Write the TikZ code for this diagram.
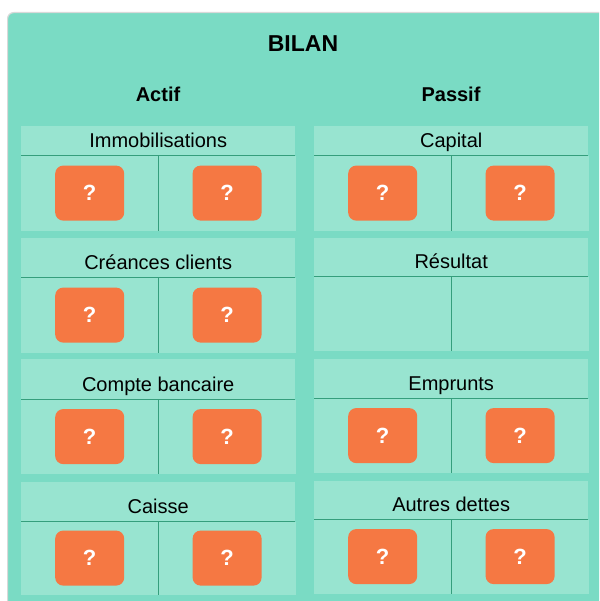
\documentclass[tikz,border=0pt]{standalone}
\usepackage{fontspec}
\setmainfont{Liberation Sans}
\usepackage{tikz}
\usetikzlibrary{positioning}
\definecolor{outerteal}{HTML}{7ADBC4}
\definecolor{cellteal}{HTML}{98E4D0}
\definecolor{rulegreen}{HTML}{359E7C}
\definecolor{btnorange}{HTML}{F57843}
\begin{document}
\begin{tikzpicture}[x=1pt, y=-1pt, node distance=0pt]
% Define
\tikzstyle{PANEL} = [rectangle, rounded corners=6pt, draw=black!15, line width=1.2pt, fill=outerteal, inner sep=0pt, minimum width=620pt, minimum height=620pt]
\tikzstyle{TITLE} = [anchor=base, font=\bfseries\fontsize{23}{28}\selectfont]
\tikzstyle{SIDE} = [anchor=base, font=\bfseries\fontsize{20}{24}\selectfont]
\tikzstyle{HEADER} = [rectangle, fill=cellteal, inner sep=0pt, minimum width=274pt, text depth=8pt, font=\fontsize{20}{24}\selectfont]
\tikzstyle{CELL} = [rectangle, fill=cellteal, inner sep=0pt, minimum width=137pt]
\tikzstyle{BUTTON} = [rectangle, rounded corners=8pt, fill=btnorange, text=white, inner sep=0pt, minimum width=69pt, minimum height=55pt, font=\bfseries\fontsize{22}{26}\selectfont]
\tikzstyle{RULE} = [draw=rulegreen, line width=1.5pt]
\useasboundingbox (0,0) rectangle (599,601);
\fill[white] (0,0) rectangle (599,601);
\clip (0,0) rectangle (599,601);
% Place nodes
\node [PANEL, anchor=north west] (bilanbox) at (7,12) {};
\node [TITLE] (bilan) at (303,52) {BILAN};
\node [SIDE] (actif) at (158,102) {Actif};
\node [SIDE] (passif) at (451,102) {Passif};
% Actif
\node [HEADER, text height=21pt, anchor=north west] (immo) at (21,126) {Immobilisations};
\node [CELL, minimum height=75pt, below right=0pt and 0pt of immo.south west] (immo_d) {};
\node [CELL, minimum height=75pt, right=0pt of immo_d] (immo_c) {};
\node [HEADER, text height=31pt, anchor=north west] (creances) at (21,238) {Créances clients};
\node [CELL, minimum height=75pt, below right=0pt and 0pt of creances.south west] (creances_d) {};
\node [CELL, minimum height=75pt, right=0pt of creances_d] (creances_c) {};
\node [HEADER, text height=32pt, anchor=north west] (banque) at (21,359) {Compte bancaire};
\node [CELL, minimum height=74pt, below right=0pt and 0pt of banque.south west] (banque_d) {};
\node [CELL, minimum height=74pt, right=0pt of banque_d] (banque_c) {};
\node [HEADER, text height=31pt, anchor=north west] (caisse) at (21,482) {Caisse};
\node [CELL, minimum height=73pt, below right=0pt and 0pt of caisse.south west] (caisse_d) {};
\node [CELL, minimum height=73pt, right=0pt of caisse_d] (caisse_c) {};
% Passif
\node [HEADER, text height=21pt, anchor=north west] (capital) at (314,126) {Capital};
\node [CELL, minimum height=75pt, below right=0pt and 0pt of capital.south west] (capital_d) {};
\node [CELL, minimum height=75pt, right=0pt of capital_d] (capital_c) {};
\node [HEADER, text height=30pt, anchor=north west] (resultat) at (314,238) {Résultat};
\node [CELL, minimum height=74pt, below right=0pt and 0pt of resultat.south west] (resultat_d) {};
\node [CELL, minimum height=74pt, right=0pt of resultat_d] (resultat_c) {};
\node [HEADER, text height=31pt, anchor=north west] (emprunts) at (314,359) {Emprunts};
\node [CELL, minimum height=74pt, below right=0pt and 0pt of emprunts.south west] (emprunts_d) {};
\node [CELL, minimum height=74pt, right=0pt of emprunts_d] (emprunts_c) {};
\node [HEADER, text height=30pt, anchor=north west] (dettes) at (314,481) {Autres dettes};
\node [CELL, minimum height=74pt, below right=0pt and 0pt of dettes.south west] (dettes_d) {};
\node [CELL, minimum height=74pt, right=0pt of dettes_d] (dettes_c) {};
% Buttons
\node [BUTTON] (immo_dq) at (immo_d) {?};
\node [BUTTON] (immo_cq) at (immo_c) {?};
\node [BUTTON] (creances_dq) at (creances_d) {?};
\node [BUTTON] (creances_cq) at (creances_c) {?};
\node [BUTTON] (banque_dq) at (banque_d) {?};
\node [BUTTON] (banque_cq) at (banque_c) {?};
\node [BUTTON] (caisse_dq) at (caisse_d) {?};
\node [BUTTON] (caisse_cq) at (caisse_c) {?};
\node [BUTTON] (capital_dq) at (capital_d) {?};
\node [BUTTON] (capital_cq) at (capital_c) {?};
\node [BUTTON] (emprunts_dq) at (emprunts_d) {?};
\node [BUTTON] (emprunts_cq) at (emprunts_c) {?};
\node [BUTTON] (dettes_dq) at (dettes_d) {?};
\node [BUTTON] (dettes_cq) at (dettes_c) {?};
% LINES
\draw [RULE] (immo.south west) -- (immo.south east);
\draw [RULE] (immo_d.north east) -- (immo_d.south east);
\draw [RULE] (creances.south west) -- (creances.south east);
\draw [RULE] (creances_d.north east) -- (creances_d.south east);
\draw [RULE] (banque.south west) -- (banque.south east);
\draw [RULE] (banque_d.north east) -- (banque_d.south east);
\draw [RULE] (caisse.south west) -- (caisse.south east);
\draw [RULE] (caisse_d.north east) -- (caisse_d.south east);
\draw [RULE] (capital.south west) -- (capital.south east);
\draw [RULE] (capital_d.north east) -- (capital_d.south east);
\draw [RULE] (resultat.south west) -- (resultat.south east);
\draw [RULE] (resultat_d.north east) -- (resultat_d.south east);
\draw [RULE] (emprunts.south west) -- (emprunts.south east);
\draw [RULE] (emprunts_d.north east) -- (emprunts_d.south east);
\draw [RULE] (dettes.south west) -- (dettes.south east);
\draw [RULE] (dettes_d.north east) -- (dettes_d.south east);
\end{tikzpicture}
\end{document}
